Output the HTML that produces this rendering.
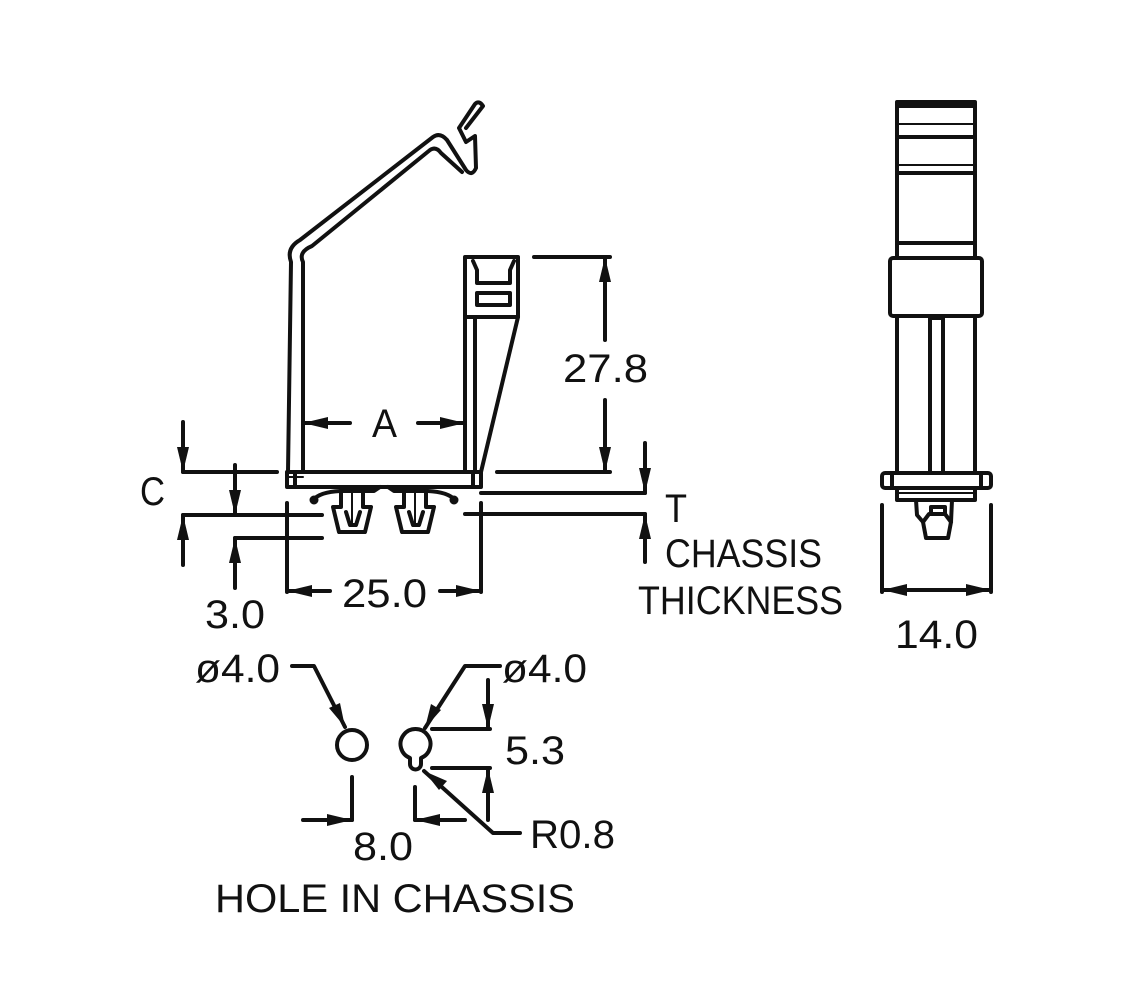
<!DOCTYPE html>
<html><head><meta charset="utf-8"><style>
html,body{margin:0;padding:0;background:#fff;}
svg{display:block;}
text{font-family:"Liberation Sans",sans-serif;font-size:40px;fill:#111;}
</style></head><body>
<svg width="1148" height="1002" viewBox="0 0 1148 1002" xmlns="http://www.w3.org/2000/svg">
<g fill="none" stroke="#111" stroke-width="4" stroke-linejoin="round" stroke-linecap="round">
<!-- left wall & arm -->
<path d="M288,472 L291,262 Q286,248 300,240 L433,137 Q440,132 447,140 L466,170 Q472,177 476,168 L475,136 L466,142 L459,128 L475,104 Q479,100 483,106 L466,128"/>
<path d="M303,472 L303,262 Q298,252 312,246 L430,150 Q436,146 441,153 L462,172"/>
<!-- base -->
<rect x="287" y="472" width="194" height="15"/>
<line x1="295" y1="472" x2="295" y2="487"/>
<line x1="473" y1="472" x2="473" y2="487"/>
<line x1="288" y1="477" x2="303" y2="477" stroke-width="2"/>
<!-- right post -->
<rect x="465" y="257" width="53" height="60"/>
<path d="M473,261 L477,270 L477,283 L510,283 L510,270 L514,261"/>
<rect x="477" y="293" width="33" height="12"/>
<line x1="465" y1="317" x2="465" y2="472"/>
<line x1="475" y1="317" x2="475" y2="472"/>
<line x1="518" y1="317" x2="481" y2="472"/>
<!-- fasteners -->
<path d="M380,487 L374,491 L340,491 Q320,492 313,500"/>
<path d="M388,487 L394,491 L428,491 Q448,492 455,500"/>
<circle cx="314" cy="500" r="2.5" fill="#111"/>
<circle cx="454" cy="500" r="2.5" fill="#111"/>
<path d="M341,491 L341,507 L333,507 L339,532 L365,532 L371,507 L363,507 L363,491"/>
<path d="M346,512 L350,525 L356,525 L360,512"/>
<line x1="352" y1="491" x2="352" y2="525" stroke-width="2"/>
<path d="M404,491 L404,507 L396,507 L402,532 L428,532 L434,507 L426,507 L426,491"/>
<path d="M409,512 L413,525 L419,525 L423,512"/>
<line x1="415" y1="491" x2="415" y2="525" stroke-width="2"/>
<!-- dim lines -->
<line x1="534" y1="257" x2="610" y2="257"/>
<line x1="497" y1="472" x2="610" y2="472"/>
<line x1="605" y1="257" x2="605" y2="340"/>
<line x1="605" y1="400" x2="605" y2="472"/>
<line x1="303" y1="423" x2="350" y2="423"/>
<line x1="418" y1="423" x2="465" y2="423"/>
<line x1="183" y1="472" x2="277" y2="472"/>
<line x1="183" y1="515" x2="322" y2="515"/>
<line x1="235" y1="538" x2="322" y2="538"/>
<line x1="183" y1="422" x2="183" y2="472"/>
<line x1="183" y1="515" x2="183" y2="565"/>
<line x1="235" y1="465" x2="235" y2="515"/>
<line x1="235" y1="538" x2="235" y2="588"/>
<line x1="287" y1="503" x2="287" y2="592"/>
<line x1="481" y1="503" x2="481" y2="592"/>
<line x1="287" y1="591" x2="330" y2="591"/>
<line x1="440" y1="591" x2="481" y2="591"/>
<line x1="481" y1="493" x2="645" y2="493"/>
<line x1="465" y1="514" x2="645" y2="514"/>
<line x1="645" y1="443" x2="645" y2="493"/>
<line x1="645" y1="514" x2="645" y2="562"/>
<!-- right view -->
<rect x="897" y="102" width="78" height="156"/>
<line x1="897" y1="106" x2="975" y2="106"/>
<line x1="897" y1="124" x2="975" y2="124" stroke-width="2"/>
<line x1="897" y1="137" x2="975" y2="137"/>
<line x1="897" y1="165" x2="975" y2="165" stroke-width="2"/>
<line x1="897" y1="173" x2="975" y2="173"/>
<line x1="897" y1="243" x2="975" y2="243"/>
<rect x="890" y="258" width="92" height="58" rx="3"/>
<line x1="897" y1="316" x2="897" y2="473"/>
<line x1="975" y1="316" x2="975" y2="473"/>
<rect x="930" y="318" width="13" height="155"/>
<rect x="882" y="473" width="109" height="15" rx="3"/>
<line x1="892" y1="473" x2="892" y2="488"/>
<line x1="981" y1="473" x2="981" y2="488"/>
<rect x="897" y="488" width="78" height="12"/>
<line x1="897" y1="493" x2="975" y2="493" stroke-width="2"/>
<path d="M916,500 L917,515 L923,522 L926,538 L948,538 L951,522 L952,500"/>
<path d="M923,522 L929,514 L945,514 L951,522"/>
<rect x="931" y="507" width="14" height="7"/>
<line x1="882" y1="505" x2="882" y2="592"/>
<line x1="991" y1="505" x2="991" y2="592"/>
<line x1="882" y1="590" x2="991" y2="590"/>
<!-- holes -->
<circle cx="352" cy="745" r="15"/>
<path d="M410,758 A15,15 0 1 1 421,758 L421,764 A5,5 0 0 1 410,764 Z"/>
<path d="M292,666 L314,666 L345,727"/>
<path d="M500,666 L465,666 L425,728"/>
<line x1="432" y1="729" x2="490" y2="729"/>
<line x1="432" y1="768" x2="490" y2="768"/>
<line x1="488" y1="680" x2="488" y2="729"/>
<line x1="488" y1="768" x2="488" y2="820"/>
<path d="M520,833 L493,833 L424,771"/>
<line x1="352" y1="777" x2="352" y2="820"/>
<line x1="415" y1="787" x2="415" y2="820"/>
<line x1="303" y1="820" x2="352" y2="820"/>
<line x1="415" y1="820" x2="465" y2="820"/>
</g>
<!-- arrowheads -->
<g fill="#111">
<path d="M605,257 L599,282 L611,282Z"/>
<path d="M605,472 L599,447 L611,447Z"/>
<path d="M303,423 L328,417 L328,429Z"/>
<path d="M465,423 L440,417 L440,429Z"/>
<path d="M183,472 L177,447 L189,447Z"/>
<path d="M183,515 L177,540 L189,540Z"/>
<path d="M235,515 L229,490 L241,490Z"/>
<path d="M235,538 L229,563 L241,563Z"/>
<path d="M287,591 L312,585 L312,597Z"/>
<path d="M481,591 L456,585 L456,597Z"/>
<path d="M645,493 L639,468 L651,468Z"/>
<path d="M645,514 L639,539 L651,539Z"/>
<path d="M882,590 L907,584 L907,596Z"/>
<path d="M991,590 L966,584 L966,596Z"/>
<path d="M345,727 L329,708 L340,703Z"/>
<path d="M425,728 L431,704 L441,710Z"/>
<path d="M488,729 L482,704 L494,704Z"/>
<path d="M488,768 L482,793 L494,793Z"/>
<path d="M424,771 L447,781 L439,790Z"/>
<path d="M352,820 L327,814 L327,826Z"/>
<path d="M415,820 L440,814 L440,826Z"/>
</g>
<text x="563" y="382" textLength="85" lengthAdjust="spacingAndGlyphs">27.8</text>
<text x="372" y="437" textLength="25" lengthAdjust="spacingAndGlyphs">A</text>
<text x="140" y="505" textLength="25" lengthAdjust="spacingAndGlyphs">C</text>
<text x="665" y="522" textLength="22" lengthAdjust="spacingAndGlyphs">T</text>
<text x="665" y="567" textLength="157" lengthAdjust="spacingAndGlyphs">CHASSIS</text>
<text x="638" y="614" textLength="205" lengthAdjust="spacingAndGlyphs">THICKNESS</text>
<text x="342" y="607" textLength="85" lengthAdjust="spacingAndGlyphs">25.0</text>
<text x="205" y="628" textLength="60" lengthAdjust="spacingAndGlyphs">3.0</text>
<text x="895" y="648" textLength="83" lengthAdjust="spacingAndGlyphs">14.0</text>
<text x="195" y="682" textLength="85" lengthAdjust="spacingAndGlyphs">ø4.0</text>
<text x="502" y="682" textLength="85" lengthAdjust="spacingAndGlyphs">ø4.0</text>
<text x="505" y="764" textLength="60" lengthAdjust="spacingAndGlyphs">5.3</text>
<text x="530" y="848" textLength="85" lengthAdjust="spacingAndGlyphs">R0.8</text>
<text x="353" y="860" textLength="60" lengthAdjust="spacingAndGlyphs">8.0</text>
<text x="215" y="912" textLength="360" lengthAdjust="spacingAndGlyphs">HOLE IN CHASSIS</text>
</svg>
</body></html>
